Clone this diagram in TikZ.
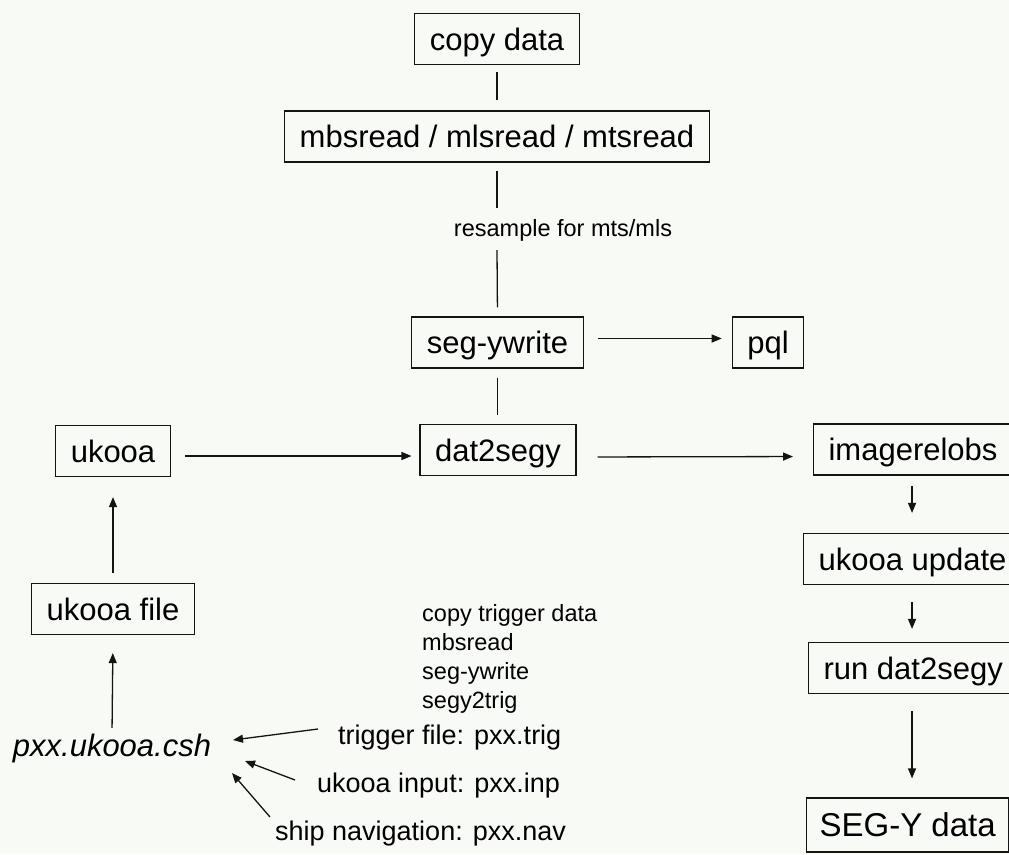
\documentclass[tikz,border=0pt]{standalone}
\usepackage{fontspec}
\setmainfont{Liberation Sans}
\usetikzlibrary{arrows.meta,calc}
\definecolor{bgc}{RGB}{248,250,246}
\definecolor{ink}{RGB}{20,20,20}
\begin{document}
\begin{tikzpicture}[x=1pt,y=-1pt,
  box/.style={draw=ink,line width=1.2pt,fill=bgc,inner xsep=15pt,inner ysep=0pt,
    minimum height=51pt,text height=25pt,text depth=3pt,
    font=\fontsize{31pt}{37pt}\selectfont},
  lab/.style={inner sep=0pt,text height=19pt,text depth=5pt,font=\fontsize{27pt}{32pt}\selectfont},
  small/.style={inner sep=0pt,font=\fontsize{23.5pt}{29pt}\selectfont},
  link/.style={draw=ink,line width=1.3pt},
  arr/.style={draw=ink,line width=1.3pt,-{Triangle[length=10pt,width=8pt]}}]
\fill[bgc] (0,0) rectangle (1009,854);
\useasboundingbox (0,0) rectangle (1009,854);

% boxes
\node[box] (copy) at (497,39) {copy data};
\node[box] (mbs) at (497,136.5) {mbsread / mlsread / mtsread};
\node[box] (seg) at (497.5,342.5) {seg-ywrite};
\node[box] (pql) at (768,342.5) {pql};
\node[box] (dat) at (498,450) {dat2segy};
\node[box] (ukooa) at (113,451) {ukooa};
\node[box] (ukfile) at (113,609) {ukooa file};
\node[box,anchor=west] (img) at (813,449.5) {imagerelobs};
\node[box,anchor=west] (upd) at (803,559) {ukooa update};
\node[box,anchor=west] (run) at (808,668) {run dat2segy};
\node[box,anchor=west,inner xsep=13pt,minimum height=54pt,text height=26pt,
  font=\fontsize{33pt}{39pt}\selectfont] (segy) at (806,825) {SEG-Y data};

% texts
\node[small] (res) at (563,230) {resample for mts/mls};
\node[small,anchor=west,align=left] (list) at (422,659) {copy trigger data\\mbsread\\seg-ywrite\\segy2trig};
\node[inner sep=0pt,text height=22pt,text depth=6pt,
  font=\fontsize{31pt}{37pt}\selectfont\itshape] (csh) at (112,748) {pxx.ukooa.csh};
\node[lab,anchor=west] (trig) at (338,737) {trigger file: pxx.trig};
\node[lab,anchor=west] (inp) at (317,785) {ukooa input: pxx.inp};
\node[lab,anchor=west] (nav) at (275,833) {ship navigation: pxx.nav};

\coordinate (r1) at (497,208);
\coordinate (r2) at (497,250);

% top column connectors
\draw[link,shorten <=7pt,shorten >=10pt] (copy.south) -- (mbs.north);
\draw[link,shorten <=8pt] (mbs.south) -- (r1);
\draw[link,shorten >=9pt] (r2) -- (seg.north);
\draw[link,shorten <=9pt,shorten >=9pt] (seg.south) -- (seg.south |- dat.north);

% horizontal arrows
\draw[arr,shorten <=14pt,shorten >=10pt] ([yshift=4pt]seg.east) -- ([yshift=4pt]pql.west);
\draw[arr,shorten <=14pt,shorten >=8pt] ([yshift=-5pt]ukooa.east) -- ([yshift=-6pt]dat.west);
\draw[arr,shorten <=21pt,shorten >=20pt] ([yshift=-7pt]dat.east) -- ([yshift=-7pt]img.west);

% right column
\draw[arr,shorten <=10pt,shorten >=20pt] ([xshift=-1pt]img.south) -- ([xshift=-1pt]img.south |- upd.north);
\draw[arr,shorten <=17pt,shorten >=13pt] ([xshift=-1pt]img.south |- upd.south) -- ([xshift=-1pt]img.south |- run.north);
\draw[arr,shorten <=17pt,shorten >=19pt] ([xshift=-1pt]img.south |- run.south) -- ([xshift=-1pt]img.south |- segy.north);

% left column
\draw[arr,shorten <=10pt,shorten >=20pt] (ukfile.north) -- (ukooa.south);
\draw[arr,shorten <=6pt,shorten >=18pt] (csh.north) -- (ukfile.south);

% input arrows
\draw[arr] ([shift={(-20,-8)}]trig.west) -- ([shift={(121,-8)}]csh.center);
\draw[arr] ([shift={(-22,-5)}]inp.west) -- ([shift={(133,13)}]csh.center);
\draw[arr] ([shift={(-5,-16)}]nav.west) -- ([shift={(120,25)}]csh.center);
\end{tikzpicture}
\end{document}
